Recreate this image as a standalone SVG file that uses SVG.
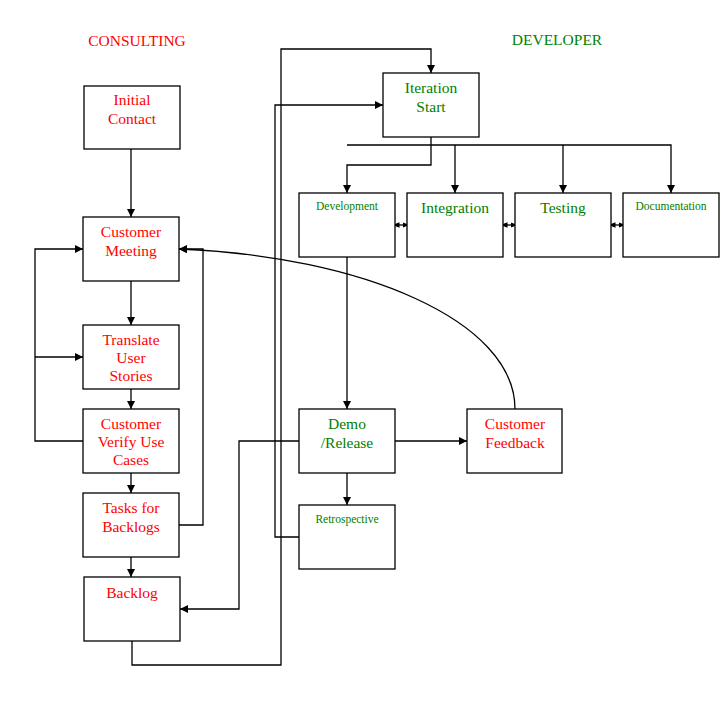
<svg xmlns="http://www.w3.org/2000/svg" width="728" height="702" viewBox="0 0 728 702">
<defs>
<style>
.b{fill:#fff;stroke:#000;stroke-width:1.3}
text{font-family:"Liberation Serif",serif;font-size:15.5px;text-anchor:middle}
.r{fill:#f00}.g{fill:#008000}.s{font-size:11.5px}
.c path{fill:none;stroke:#000;stroke-width:1.3}
</style>
<marker id="a" viewBox="0 0 10 10" refX="10" refY="5" markerWidth="8" markerHeight="8" orient="auto" markerUnits="userSpaceOnUse"><path d="M0,0L10,5L0,10z"/></marker>
<marker id="d" viewBox="0 0 10 10" refX="5" refY="5" markerWidth="7" markerHeight="7" orient="auto-start-reverse" markerUnits="userSpaceOnUse"><path d="M0,1L10,5L0,9z"/></marker>
</defs>
<rect width="728" height="702" fill="#fff"/>
<text class="r" x="137" y="46" font-size="18">CONSULTING</text>
<text class="g" x="557" y="45" font-size="16.5">DEVELOPER</text>
<g class="c">
<path d="M131,149V217" marker-end="url(#a)"/>
<path d="M131,281V325" marker-end="url(#a)"/>
<path d="M131,389V409" marker-end="url(#a)"/>
<path d="M131,473V493" marker-end="url(#a)"/>
<path d="M131,557V577" marker-end="url(#a)"/>
<path d="M83,441H35V249H83" marker-end="url(#a)"/>
<path d="M35,357H83" marker-end="url(#a)"/>
<path d="M179,525H203V249H179" marker-end="url(#a)"/>
<path d="M515,409C515,320 360,256 179,249" marker-end="url(#a)"/>
<path d="M299,441H239V609H180" marker-end="url(#a)"/>
<path d="M132,641V665H281V49H431V73" marker-end="url(#a)"/>
<path d="M299,537H275V105H383" marker-end="url(#a)"/>
<path d="M431,137V165H347V193" marker-end="url(#a)"/>
<path d="M347,145H671V193" marker-end="url(#a)"/>
<path d="M455,145V193" marker-end="url(#a)"/>
<path d="M563,145V193" marker-end="url(#a)"/>
<path d="M347,257V409" marker-end="url(#a)"/>
<path d="M395,441H467" marker-end="url(#a)"/>
<path d="M347,473V505" marker-end="url(#a)"/>
<path d="M396,225H406" marker-start="url(#d)" marker-end="url(#d)"/>
<path d="M504,225H514" marker-start="url(#d)" marker-end="url(#d)"/>
<path d="M612,225H622" marker-start="url(#d)" marker-end="url(#d)"/>
</g>
<g id="initial"><rect class="b" x="84" y="86" width="96" height="63"/><text class="r" x="132" y="105">Initial</text><text class="r" x="132" y="124">Contact</text></g>
<g id="meeting"><rect class="b" x="83" y="217" width="96" height="64"/><text class="r" x="131" y="237">Customer</text><text class="r" x="131" y="256">Meeting</text></g>
<g id="translate"><rect class="b" x="83" y="325" width="96" height="64"/><text class="r" x="131" y="345">Translate</text><text class="r" x="131" y="363">User</text><text class="r" x="131" y="381">Stories</text></g>
<g id="verify"><rect class="b" x="83" y="409" width="96" height="64"/><text class="r" x="131" y="429">Customer</text><text class="r" x="131" y="447">Verify Use</text><text class="r" x="131" y="465">Cases</text></g>
<g id="tasks"><rect class="b" x="83" y="493" width="96" height="64"/><text class="r" x="131" y="513">Tasks for</text><text class="r" x="131" y="532">Backlogs</text></g>
<g id="backlog"><rect class="b" x="84" y="577" width="96" height="64"/><text class="r" x="132" y="598">Backlog</text></g>
<g id="iteration"><rect class="b" x="383" y="73" width="96" height="64"/><text class="g" x="431" y="93">Iteration</text><text class="g" x="431" y="112">Start</text></g>
<g id="development"><rect class="b" x="299" y="193" width="96" height="64"/><text class="g s" x="347" y="210">Development</text></g>
<g id="integration"><rect class="b" x="407" y="193" width="96" height="64"/><text class="g" x="455" y="213">Integration</text></g>
<g id="testing"><rect class="b" x="515" y="193" width="96" height="64"/><text class="g" x="563" y="213">Testing</text></g>
<g id="documentation"><rect class="b" x="623" y="193" width="96" height="64"/><text class="g s" x="671" y="210">Documentation</text></g>
<g id="demo"><rect class="b" x="299" y="409" width="96" height="64"/><text class="g" x="347" y="429">Demo</text><text class="g" x="347" y="448">/Release</text></g>
<g id="feedback"><rect class="b" x="467" y="409" width="95" height="64"/><text class="r" x="515" y="429">Customer</text><text class="r" x="515" y="448">Feedback</text></g>
<g id="retro"><rect class="b" x="299" y="505" width="96" height="64"/><text class="g s" x="347" y="523">Retrospective</text></g>
</svg>
